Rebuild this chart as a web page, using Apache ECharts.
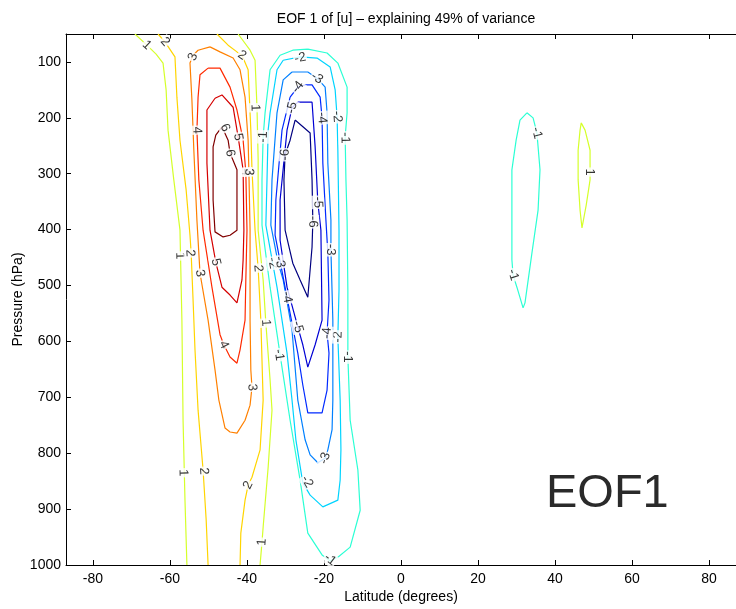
<!DOCTYPE html>
<html>
<head>
<meta charset="utf-8">
<script src="https://cdn.jsdelivr.net/npm/echarts@6/dist/echarts.min.js"></script>
<style>html,body{margin:0;padding:0;background:#fff}#c{width:736px;height:609px}</style>
</head>
<body>
<div id="c"></div>
<script>
// ---------- tick values ----------
const latTicks = [-80, -60, -40, -20, 0, 20, 40, 60, 80];
const pressureTicks = [100, 200, 300, 400, 500, 600, 700, 800, 900, 1000];
const titleText = 'EOF 1 of [u] \u2013 explaining 49% of variance';
const panelTag = 'EOF1';

// ---------- contour lines, [latitude, pressure] ----------
// level +1, western branch (open, top to bottom)
const posOneWest = [[-69.1,50],[-66.0,70],[-63.6,86],[-61.8,102],[-61.0,150],[-60.5,222],[-59.0,311],[-57.4,401],[-56.9,562],[-56.6,741],[-56.1,884],[-55.6,1000]];
// level +2, western branch (open)
const posTwoWest = [[-63.1,50],[-61.3,64],[-58.7,91],[-58.2,163],[-57.4,240],[-55.8,329],[-54.8,410],[-54.5,442],[-54.0,526],[-53.5,615],[-52.7,723],[-51.4,830],[-50.6,919],[-50.1,1000]];
// level +2, eastern branch (open)
const posTwoEast = [[-47.8,50],[-44.9,70],[-42.6,82],[-41.3,88],[-39.7,114],[-39.0,222],[-38.7,293],[-37.9,401],[-37.1,469],[-36.4,562],[-35.8,705],[-36.6,794],[-38.7,843],[-39.7,857],[-40.5,884],[-41.6,943],[-41.8,1000]];
// level +1, eastern branch (open)
const posOneEast = [[-42.3,50],[-39.2,79],[-37.9,97],[-37.4,181],[-37.1,275],[-37.1,401],[-35.8,490],[-35.1,567],[-34.0,669],[-33.5,723],[-34.5,825],[-35.8,932],[-36.1,959],[-36.6,1000]];
// closed positive contours
const posThree = [[-49.6,73],[-47.0,82],[-43.6,93],[-41.8,114],[-40.5,163],[-39.7,240],[-39.5,297],[-39.2,401],[-39.2,562],[-39.0,651],[-38.7,682],[-39.2,714],[-40.5,741],[-42.6,764],[-44.4,762],[-45.7,755],[-47.3,705],[-48.3,651],[-50.1,562],[-52.2,478],[-53.0,383],[-53.8,258],[-54.3,168],[-54.8,102],[-54.0,88],[-52.7,79]];
const posFour = [[-50.1,111],[-47.0,111],[-44.4,145],[-42.6,186],[-41.0,240],[-40.3,297],[-40.0,401],[-40.3,490],[-40.5,562],[-41.8,615],[-42.6,639],[-44.4,628],[-46.0,606],[-47.0,588],[-49.1,503],[-51.4,401],[-52.5,311],[-53.0,222],[-52.7,163],[-52.2,123]];
const posFive = [[-48.3,165],[-46.5,159],[-43.6,181],[-42.3,234],[-41.0,293],[-40.8,401],[-41.0,454],[-41.3,490],[-42.6,531],[-44.4,517],[-46.5,503],[-48.1,458],[-49.6,401],[-50.4,281],[-50.4,186]];
const posSix = [[-46.5,216],[-44.9,240],[-44.4,263],[-42.6,293],[-42.6,401],[-44.4,410],[-46.2,413],[-48.3,404],[-48.8,347],[-48.8,252],[-48.1,231]];
// closed negative contours
const negOne = [[-24.2,77],[-19.2,84],[-16.4,102],[-14.0,145],[-14.0,191],[-14.5,234],[-14.3,311],[-14.0,383],[-13.8,508],[-13.8,628],[-13.2,741],[-11.2,830],[-10.6,902],[-13.2,968],[-16.4,986],[-18.4,993],[-20.5,982],[-24.2,943],[-26.2,848],[-28.8,741],[-31.2,633],[-34.0,503],[-36.1,392],[-36.1,311],[-35.8,234],[-35.3,191],[-34.0,114],[-31.4,88],[-28.1,79]];
const negTwo = [[-30.6,97],[-26.2,91],[-21.8,93],[-18.4,109],[-17.1,150],[-16.6,198],[-16.4,258],[-16.1,401],[-16.1,508],[-16.4,592],[-15.8,705],[-15.6,794],[-15.8,848],[-16.4,884],[-20.3,896],[-23.6,875],[-25.5,853],[-27.3,776],[-28.3,705],[-29.6,621],[-32.2,503],[-35.1,392],[-34.8,311],[-34.5,222],[-34.0,191],[-32.2,114]];
const negThree = [[-28.3,118],[-24.2,118],[-21.8,129],[-19.7,145],[-19.2,191],[-19.0,281],[-18.2,383],[-18.2,436],[-17.7,562],[-17.7,705],[-17.9,758],[-19.0,794],[-19.7,809],[-21.6,817],[-23.6,803],[-24.9,776],[-26.8,705],[-28.3,580],[-30.6,490],[-31.9,460],[-33.8,392],[-33.5,311],[-32.2,191],[-30.6,132]];
const negFour = [[-28.8,163],[-26.8,145],[-24.9,141],[-23.1,141],[-21.0,163],[-20.5,200],[-20.3,281],[-19.5,383],[-19.0,442],[-18.7,526],[-19.2,585],[-18.7,621],[-19.2,687],[-20.5,728],[-24.2,728],[-25.5,678],[-26.8,621],[-29.6,521],[-32.7,410],[-32.5,347],[-30.9,222]];
const negFive = [[-26.8,172],[-23.1,172],[-22.3,252],[-21.6,351],[-20.8,401],[-20.5,562],[-22.3,606],[-24.2,646],[-25.5,606],[-26.8,574],[-29.6,503],[-31.4,419],[-31.4,347],[-29.6,222],[-28.3,182]];
const negSix = [[-27.5,204],[-23.6,227],[-23.1,311],[-22.9,386],[-23.1,431],[-24.2,521],[-26.2,490],[-28.1,460],[-30.1,401],[-30.4,311],[-30.1,266],[-28.8,240]];
// northern hemisphere cells
const negOneNorth = [[32.7,191],[34.3,200],[35.3,227],[36.1,293],[35.6,365],[34.0,442],[32.2,531],[31.7,540],[30.1,503],[29.1,481],[28.8,454],[28.8,293],[29.9,240],[30.9,204]];
const posOneNorth = [[46.8,209],[47.8,222],[49.1,258],[49.1,311],[48.1,356],[47.0,397],[46.5,365],[46.0,311],[46.0,258],[46.5,222]];

// contour labels: [lat, pressure, text, contour]
const contourLabels = [
  [-66.0,70,'1','posOneWest'],[-61.3,64,'2','posTwoWest'],[-54.0,91,'3','posThree'],[-41.3,88,'2','posTwoEast'],
  [-53.0,222,'4','posFour'],[-45.7,218,'6','posSix'],[-42.3,234,'5','posFive'],[-44.4,263,'6','posSix'],
  [-40.3,297,'4','posFour'],[-39.5,297,'3','posThree'],[-37.9,182,'1','posOneEast'],
  [-57.4,447,'1','posOneWest'],[-54.8,442,'2','posTwoWest'],[-52.2,478,'3','posThree'],[-48.1,458,'5','posFive'],
  [-37.1,469,'2','posTwoEast'],[-35.1,567,'1','posOneEast'],[-46.0,606,'4','posFour'],[-38.7,682,'3','posThree'],
  [-56.6,835,'1','posOneWest'],[-51.2,832,'2','posTwoWest'],[-39.7,857,'2','posTwoEast'],[-36.1,959,'1','posOneEast'],
  [-35.8,234,'-1','negOne'],[-14.5,236,'-1','negOne'],[-31.7,624,'-1','negOne'],[-13.8,628,'-1','negOne'],[-18.4,990,'-1','negOne'],
  [-26.2,93,'-2','negTwo'],[-16.6,198,'-2','negTwo'],[-33.3,460,'-2','negTwo'],[-16.4,592,'-2','negTwo'],[-24.4,851,'-2','negTwo'],
  [-21.8,129,'-3','negThree'],[-31.5,458,'-3','negThree'],[-18.2,436,'-3','negThree'],[-19.7,809,'-3','negThree'],
  [-26.8,145,'-4','negFour'],[-20.5,200,'-4','negFour'],[-29.6,521,'-4','negFour'],[-19.2,585,'-4','negFour'],
  [-28.3,182,'-5','negFive'],[-21.6,351,'-5','negFive'],[-26.8,574,'-5','negFive'],
  [-30.1,266,'-6','negSix'],[-22.9,386,'-6','negSix'],
  [35.3,227,'-1','negOneNorth'],[29.1,481,'-1','negOneNorth'],[49.1,297,'1','posOneNorth']
];

// ---------- assembly ----------
const contours = [
  {name:'posOneWest', level:1, pts:posOneWest, closed:false},
  {name:'posTwoWest', level:2, pts:posTwoWest, closed:false},
  {name:'posTwoEast', level:2, pts:posTwoEast, closed:false},
  {name:'posOneEast', level:1, pts:posOneEast, closed:false},
  {name:'posThree', level:3, pts:posThree, closed:true},
  {name:'posFour', level:4, pts:posFour, closed:true},
  {name:'posFive', level:5, pts:posFive, closed:true},
  {name:'posSix', level:6, pts:posSix, closed:true},
  {name:'negOne', level:-1, pts:negOne, closed:true},
  {name:'negTwo', level:-2, pts:negTwo, closed:true},
  {name:'negThree', level:-3, pts:negThree, closed:true},
  {name:'negFour', level:-4, pts:negFour, closed:true},
  {name:'negFive', level:-5, pts:negFive, closed:true},
  {name:'negSix', level:-6, pts:negSix, closed:true},
  {name:'negOneNorth', level:-1, pts:negOneNorth, closed:true},
  {name:'posOneNorth', level:1, pts:posOneNorth, closed:true}
];

function jet(v) {
  const t = (v + 6) / 12;
  const c = x => Math.round(255 * Math.max(0, Math.min(1, 1.5 - Math.abs(x))));
  return 'rgb(' + c(4*t-3) + ',' + c(4*t-2) + ',' + c(4*t-1) + ')';
}

const FONT = '"Liberation Sans", Arial, Helvetica, sans-serif';
const chart = echarts.init(document.getElementById('c'), null, {renderer: 'canvas'});

const lineSeries = contours.map(c => ({
  type: 'line', name: c.name,
  data: c.closed ? c.pts.concat([c.pts[0]]) : c.pts,
  showSymbol: false, symbol: 'none', smooth: false, silent: true,
  lineStyle: {color: jet(c.level), width: 1.2}, z: 2, clip: true
}));

const axisTextStyle = {color: '#000', fontSize: 14, fontFamily: FONT};

chart.setOption({
  animation: false,
  backgroundColor: '#fff',
  title: {
    text: titleText, left: 401, top: 7, textAlign: 'center',
    textStyle: {color: '#000', fontSize: 14, fontWeight: 'normal', fontFamily: FONT}
  },
  grid: {left: 66, top: 34, width: 670, height: 531, containLabel: false, outerBoundsMode: 'none'},
  xAxis: [{
    type: 'value', min: -87, max: 87, position: 'bottom',
    axisLine: {show: true, onZero: false, lineStyle: {color: '#000', width: 1}},
    axisTick: {show: true, inside: true, length: 5, customValues: latTicks, lineStyle: {color: '#000'}},
    axisLabel: Object.assign({customValues: latTicks, margin: 7, formatter: v => String(v)}, axisTextStyle),
    splitLine: {show: false},
    name: 'Latitude (degrees)', nameLocation: 'middle', nameGap: 25, nameMoveOverlap: false,
    nameTextStyle: axisTextStyle
  }, {
    type: 'value', min: -87, max: 87, position: 'top',
    axisLine: {show: true, onZero: false, lineStyle: {color: '#000', width: 1}},
    axisTick: {show: true, inside: true, length: 5, customValues: latTicks, lineStyle: {color: '#000'}},
    axisLabel: {show: false}, splitLine: {show: false}
  }],
  yAxis: [{
    type: 'value', min: 50, max: 1000, inverse: true,
    axisLine: {show: true, onZero: false, lineStyle: {color: '#000', width: 1}},
    axisTick: {show: true, inside: true, length: 5, customValues: pressureTicks, lineStyle: {color: '#000'}},
    axisLabel: Object.assign({customValues: pressureTicks, margin: 5, formatter: v => String(v)}, axisTextStyle),
    splitLine: {show: false},
    name: 'Pressure (hPa)', nameLocation: 'middle', nameGap: 41, nameRotate: 90, nameMoveOverlap: false,
    nameTextStyle: axisTextStyle
  }],
  graphic: [{
    type: 'text', left: 546, top: 471, silent: true,
    style: {text: panelTag, fill: '#2a2a2a', fontSize: 47, fontFamily: FONT}
  }],
  series: lineSeries
});

// label rotation follows the local direction of its contour (pixel space)
const byName = {};
contours.forEach(c => { byName[c.name] = c; });
function segDist(p, a, b) {
  const dx = b[0]-a[0], dy = b[1]-a[1];
  const L = dx*dx + dy*dy || 1;
  let t = ((p[0]-a[0])*dx + (p[1]-a[1])*dy) / L;
  t = Math.max(0, Math.min(1, t));
  const x = a[0] + t*dx, y = a[1] + t*dy;
  return (p[0]-x)*(p[0]-x) + (p[1]-y)*(p[1]-y);
}
const labelData = contourLabels.map(([lat, p, txt, nm]) => {
  const c = byName[nm];
  const pts = c.closed ? c.pts.concat([c.pts[0]]) : c.pts;
  const px = pts.map(q => chart.convertToPixel({gridIndex: 0}, q));
  const lp = chart.convertToPixel({gridIndex: 0}, [lat, p]);
  let best = 0, bd = Infinity;
  for (let i = 0; i < px.length - 1; i++) {
    const d = segDist(lp, px[i], px[i+1]);
    if (d < bd) { bd = d; best = i; }
  }
  const a = px[best], b = px[best+1];
  let ang = -Math.atan2(b[1]-a[1], b[0]-a[0]) * 180 / Math.PI;
  while (ang >= 90) ang -= 180;
  while (ang < -90) ang += 180;
  return {name: txt, value: [lat, p], label: {rotate: ang}};
});

chart.setOption({
  series: lineSeries.concat([{
    type: 'scatter', name: 'labels', data: labelData, symbolSize: 1, silent: true, z: 6,
    itemStyle: {color: 'rgba(0,0,0,0)'},
    label: {
      show: true, position: 'inside', formatter: p => p.name,
      color: '#000', fontSize: 13, fontFamily: FONT,
      backgroundColor: '#fff', padding: [0, 1], lineHeight: 13
    }
  }])
});
</script>
</body>
</html>
